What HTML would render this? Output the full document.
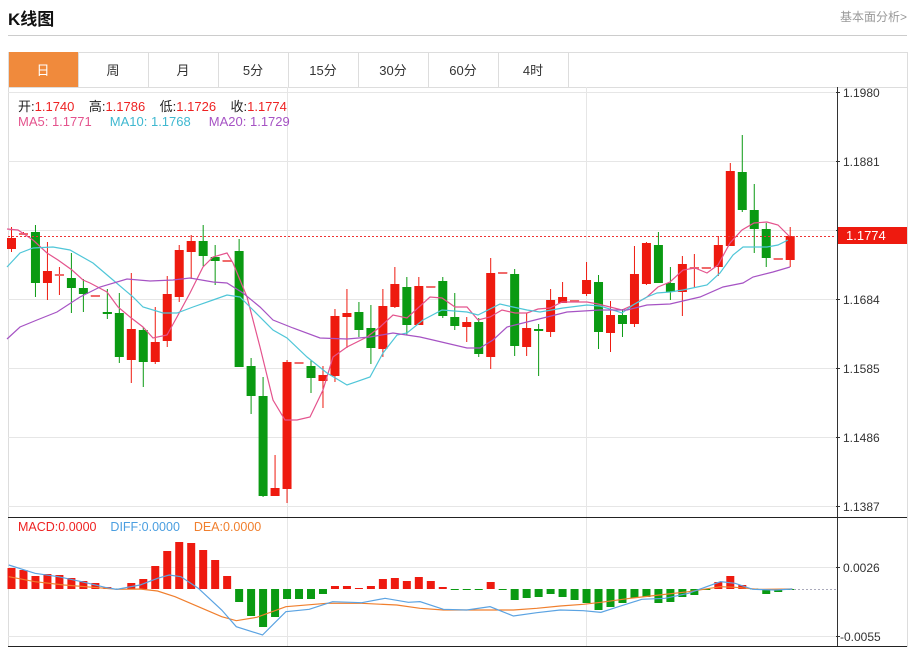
<!DOCTYPE html>
<html><head><meta charset="utf-8"><style>
body{margin:0;width:913px;height:651px;background:#fff;font-family:"Liberation Sans","Noto Sans CJK SC",sans-serif;overflow:hidden;position:relative}
.t{position:absolute;white-space:nowrap}
</style></head><body>
<div class="t" style="left:8px;top:5px;font-size:17px;font-weight:bold;color:#111">K线图</div>
<div class="t" style="left:840px;top:8px;font-size:12px;color:#999">基本面分析&gt;</div>
<div style="position:absolute;left:8px;top:35px;width:899px;height:1px;background:#ccc"></div>
<svg id="s" width="913" height="651" style="position:absolute;left:0;top:0"></svg>
<script>
var S=document.getElementById('s'),h='';
function r(x,y,w,hh,c){h+='<rect x="'+x+'" y="'+y+'" width="'+w+'" height="'+hh+'" fill="'+c+'"/>';}
function l(x1,y1,x2,y2,c,ex){h+='<line x1="'+x1+'" y1="'+y1+'" x2="'+x2+'" y2="'+y2+'" stroke="'+c+'" '+(ex||'')+'/>';}
function t(x,y,s,c,sz,ex){h+='<text x="'+x+'" y="'+y+'" fill="'+c+'" font-size="'+(sz||12)+'" '+(ex||'')+'>'+s+'</text>';}
l(8,52.5,907,52.5,'#ddd');l(8,87.5,907,87.5,'#ddd');
r(8,52,70,35,'#f08a3c');
var tabs=['日','周','月','5分','15分','30分','60分','4时'],tb=[8,78,148,218,288,358,428,498,568];
for(var i=0;i<tabs.length;i++){t((tb[i]+tb[i+1])/2,75,tabs[i],i?'#333':'#fff',13,'text-anchor="middle"');}
for(var i=0;i<tb.length;i++)l(tb[i]+.5,52,tb[i]+.5,87,'#ddd');
l(907.5,52,907.5,647,'#ddd');l(8.5,87,8.5,647,'#ddd');
var gy=[92,161,230,299,368,437,506];
gy.forEach(function(y){l(8,y+.5,836,y+.5,'#e6e6e6');l(836,y+.5,840,y+.5,'#333');});
[567,636].forEach(function(y){l(8,y+.5,836,y+.5,'#e6e6e6');l(836,y+.5,840,y+.5,'#333');});
l(287.5,87,287.5,647,'#e6e6e6');l(586.5,87,586.5,647,'#e6e6e6');
l(837.5,87,837.5,647,'#333');
l(8,517.5,907,517.5,'#222');l(8,646.5,907,646.5,'#222');
var lb=['1.1980','1.1881','','1.1684','1.1585','1.1486','1.1387'];
gy.forEach(function(y,i){if(lb[i])t(843,y+5,lb[i],'#333',12);});
t(843,572,'0.0026','#333',12);t(840,641,'-0.0055','#333',12);
var C=[[1,238,249,227,252],[1,233,234,232,235],[0,232,283,225,297],[1,271,283,242,300],[1,274,275,267,295],[0,278,288,253,313],[0,288,294,279,312],[1,295,296,295,296],[0,312,313,289,319],[0,313,357,293,363],
[1,329,360,273,383],[0,330,362,327,387],[1,342,362,307,364],[1,294,341,276,347],[1,250,297,245,302],[1,241,252,235,279],[0,241,256,225,266],[0,257,261,245,285],[1,260,261,260,261],[0,251,367,239,367],
[0,366,396,358,414],[0,396,496,377,497],[1,488,496,455,496],[1,362,489,360,503],[1,362,363,362,363],[0,366,378,360,393],[1,375,381,366,408],[1,316,376,309,382],[1,313,317,289,348],[0,312,330,302,337],
[0,328,348,305,364],[1,306,349,289,357],[1,284,307,267,308],[0,287,325,277,335],[1,286,325,277,325],[1,286,287,286,287],[0,281,316,277,318],[0,317,326,293,330],[1,322,327,317,342],[0,322,354,318,357],
[1,273,357,258,369],[1,272,273,272,273],[0,274,346,269,356],[1,328,347,313,356],[0,329,330,324,376],[1,300,332,289,337],[1,297,303,282,303],[1,300,301,300,301],[1,280,294,262,296],[0,282,332,275,349],
[1,315,333,301,352],[0,315,324,309,337],[1,274,324,246,327],[1,243,284,242,285],[0,245,283,232,283],[0,283,292,267,300],[1,264,292,256,316],[1,267,268,254,287],[1,267,268,267,268],[1,245,267,236,276],
[1,171,246,163,246],[0,172,210,135,212],[0,210,229,184,253],[0,229,258,223,267],[1,258,259,258,259],[1,236,260,227,267]];
var R='#ee1a0f',G='#0a9a12';
C.forEach(function(c,i){var x=11.5+i*11.98,col=c[0]?R:G;
 l(x,c[3],x,c[4],col,'stroke-width="1"');
 var bh=Math.max(c[2]-c[1],1.5);r(x-4.5,c[1],9,bh,col);
 if(c[2]-c[1]<=1)r(x-4.5,c[1],9,2,c[0]?'#f06a6a':col);});
function pl(pts,c,w){h+='<polyline fill="none" stroke="'+c+'" stroke-width="'+(w||1.2)+'" points="'+pts.map(function(p){return p[0]+','+p[1]}).join(' ')+'"/>';}
pl([[7,229],[18,230],[33,240],[47,253],[58,260],[72,270],[83,280],[90,283],[107,292],[118,307],[130,317],[143,327],[153,338],[167,335],[177,317],[190,293],[203,267],[213,257],[227,253],[233,263],[247,297],[260,347],[273,400],[285,420],[297,420],[310,417],[323,390],[333,357],[347,347],[367,337],[380,327],[393,315],[407,318],[430,297],[442,298],[455,307],[467,307],[478,320],[490,317],[502,310],[515,313],[527,313],[538,309],[550,308],[562,302],[574,302],[587,302],[598,304],[610,307],[622,310],[633,305],[647,297],[658,287],[670,282],[683,270],[695,268],[707,273],[718,265],[730,243],[742,230],[754,223],[767,222],[778,225],[790,237]],'#e4538d');
pl([[7,267],[20,253],[33,248],[53,247],[70,250],[93,263],[113,280],[133,297],[143,307],[163,313],[177,313],[193,307],[213,300],[227,295],[240,297],[253,310],[273,330],[287,338],[307,357],[327,373],[347,385],[370,377],[383,353],[397,335],[407,333],[423,320],[442,310],[467,312],[478,315],[500,304],[513,307],[527,310],[540,312],[563,308],[587,305],[600,306],[613,310],[622,313],[633,305],[647,297],[657,293],[670,292],[683,290],[707,285],[720,273],[733,255],[743,247],[757,247],[767,247],[778,245],[788,240]],'#4fc6d8');
pl([[7,339],[20,327],[37,320],[57,312],[80,297],[100,287],[127,279],[150,281],[173,280],[190,278],[213,282],[227,283],[243,293],[260,307],[273,320],[293,328],[320,338],[347,339],[370,337],[393,333],[420,337],[433,340],[467,348],[480,348],[493,340],[507,327],[527,322],[547,317],[567,312],[600,310],[627,310],[647,305],[670,304],[700,297],[723,287],[743,283],[753,277],[773,272],[790,267]],'#a653c4');
l(8,236.5,836,236.5,'#e33','stroke-dasharray="2,2"');
r(838,227,69,17,'#ee1a0f');t(846,240,'1.1774','#fff',13);
var M=[568,570,576,574,575,578,581,583,587,589,583,579,566,551,542,543,550,560,576,602,616,627,617,599,599,599,594,586,586,588,586,579,578,581,577,581,587,590,590,590,582,590,600,598,597,594,597,600,603,610,607,603,598,597,603,602,597,595,590,582,576,585,589,594,592,590];
var Z=589;
M.forEach(function(y,i){var x=11.5+i*11.98;
 if(y<Z)r(x-4,y,8,Z-y,R);else if(y>Z)r(x-4,Z,8,y-Z,G);else r(x-4,Z-0.5,8,1,G);});
l(790,589.5,836,589.5,'#aab','stroke-dasharray="2,2"');
function cv(a){return a.map(function(p){return [p[0]/1.714,510+p[1]/3]});}
pl(cv([[15,200],[60,215],[110,225],[160,232],[200,238],[240,237],[270,243],[300,260],[340,290],[380,320],[405,332],[440,322],[490,290],[560,280],[620,280],[680,285],[720,295],[760,300],[800,300],[840,300],[880,300],[920,295],[960,288],[1000,283],[1030,277],[1080,265],[1130,255],[1180,245],[1235,230],[1260,232],[1300,238],[1358,237]]),'#f07f2e');
pl(cv([[15,165],[60,190],[100,200],[140,215],[180,232],[200,238],[240,225],[270,205],[290,195],[310,200],[340,235],[380,300],[405,350],[450,375],[470,340],[490,305],[530,298],[570,275],[620,278],[660,265],[700,277],[720,275],[760,298],[800,300],[840,290],[880,318],[920,308],[960,300],[1000,302],[1030,307],[1060,290],[1100,268],[1140,265],[1180,250],[1235,215],[1260,220],[1290,238],[1330,240],[1358,237]]),'#5ba3e2');
S.innerHTML=h;
</script>
<div class="t" style="left:18px;top:96px;font-size:13px;color:#222">开:<span style="color:#e22">1.1740</span>&nbsp;&nbsp;&nbsp; 高:<span style="color:#e22">1.1786</span>&nbsp;&nbsp;&nbsp; 低:<span style="color:#e22">1.1726</span>&nbsp;&nbsp;&nbsp; 收:<span style="color:#e22">1.1774</span></div>
<div class="t" style="left:18px;top:114px;font-size:13px"><span style="color:#e4538d">MA5: 1.1771</span>&nbsp;&nbsp;&nbsp;&nbsp;&nbsp;<span style="color:#3fb8d0">MA10: 1.1768</span>&nbsp;&nbsp;&nbsp;&nbsp;&nbsp;<span style="color:#a653c4">MA20: 1.1729</span></div>
<div class="t" style="left:18px;top:520px;font-size:12.5px"><span style="color:#e22">MACD:0.0000</span>&nbsp;&nbsp;&nbsp;&nbsp;<span style="color:#4a9ee0">DIFF:0.0000</span>&nbsp;&nbsp;&nbsp;&nbsp;<span style="color:#f07f2e">DEA:0.0000</span></div>
</body></html>
